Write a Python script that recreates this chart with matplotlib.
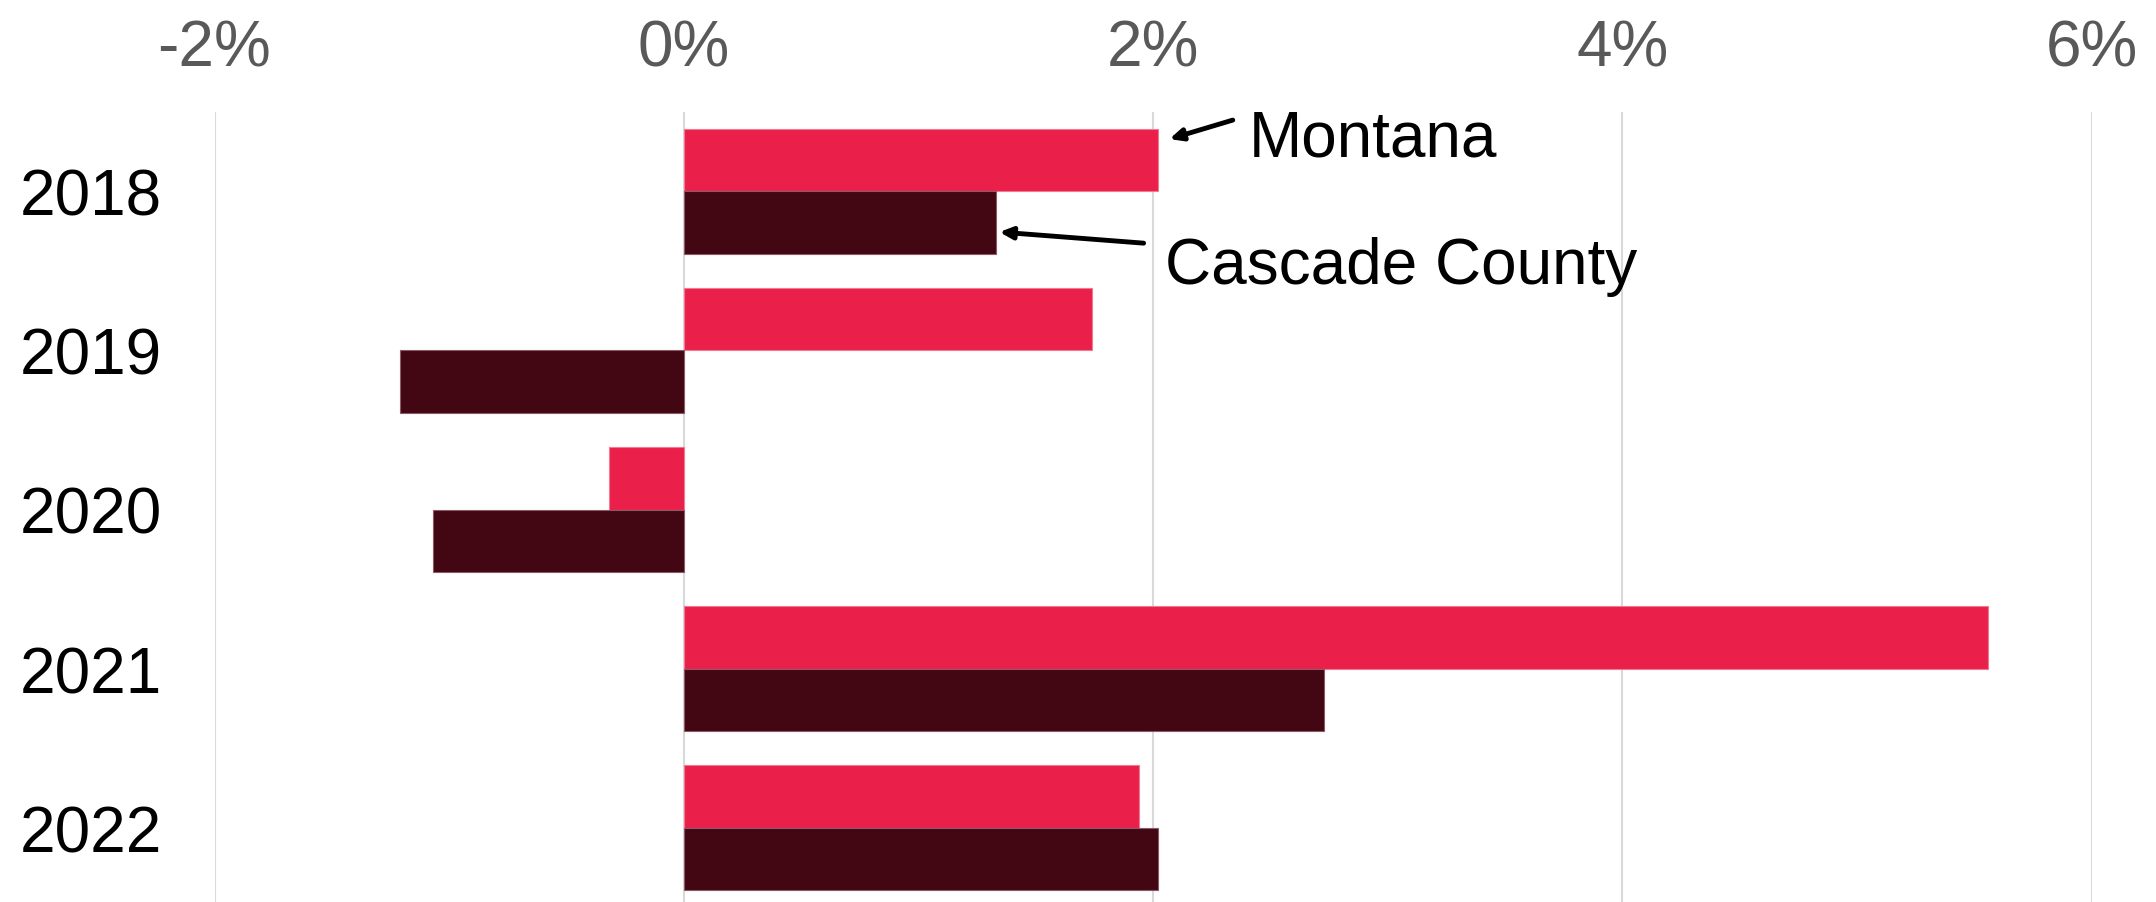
import matplotlib
matplotlib.use("Agg")
import matplotlib.pyplot as plt
import numpy as np

years = ["2018", "2019", "2020", "2021", "2022"]
montana = [2.02, 1.74, -0.32, 5.56, 1.94]
cascade = [1.33, -1.21, -1.07, 2.73, 2.02]
xticks = [-2, 0, 2, 4, 6]
xtick_labels = ["-2%", "0%", "2%", "4%", "6%"]

MONTANA_C = "#EA1F4A"
CASCADE_C = "#430613"

plt.rcParams['font.family'] = ['Liberation Sans', 'DejaVu Sans']

W, H = 2156, 903
fig = plt.figure(figsize=(W / 100, H / 100), dpi=100)
left_px, right_px = 214.5, 2091.5
top_px, bot_px = 112.5, 908.5
ax = fig.add_axes([left_px / W, 1 - bot_px / H, (right_px - left_px) / W, (bot_px - top_px) / H])

y = np.arange(len(years))
h = 0.392
ax.barh(y - h / 2, montana, height=h, color=MONTANA_C, edgecolor="#F07A92", linewidth=0.8, zorder=3)
ax.barh(y + h / 2, cascade, height=h, color=CASCADE_C, edgecolor="#8A5A66", linewidth=0.8, zorder=3)

ax.set_xlim(-2, 6)
ax.set_ylim(4.5, -0.5)
ax.set_xticks(xticks)
ax.set_xticklabels(xtick_labels, fontsize=46, color="#595959")
ax.xaxis.tick_top()
ax.tick_params(axis='x', length=0, pad=24)
ax.set_yticks(y)
ax.set_yticklabels(years, fontsize=46, color="black")
ax.tick_params(axis='y', length=0, pad=38)
ax.grid(axis='x', color="#D9D9D9", linewidth=1.5, zorder=0)
ax.set_axisbelow(True)
for s in ax.spines.values():
    s.set_visible(False)

arrow = dict(arrowstyle='-|>,head_length=0.75,head_width=0.35', color='black', lw=3.5, shrinkA=0, shrinkB=0)
ax.annotate("", xy=(2.07, -0.327), xytext=(2.34, -0.446), arrowprops=arrow, zorder=5)
ax.annotate("", xy=(1.345, 0.257), xytext=(1.96, 0.327), arrowprops=arrow, zorder=5)
ax.text(2.41, -0.33, "Montana", fontsize=46, va='center', ha='left', color='black')
ax.text(2.05, 0.47, "Cascade County", fontsize=46, va='center', ha='left', color='black')

fig.savefig("out.png", dpi=100, facecolor="white")
